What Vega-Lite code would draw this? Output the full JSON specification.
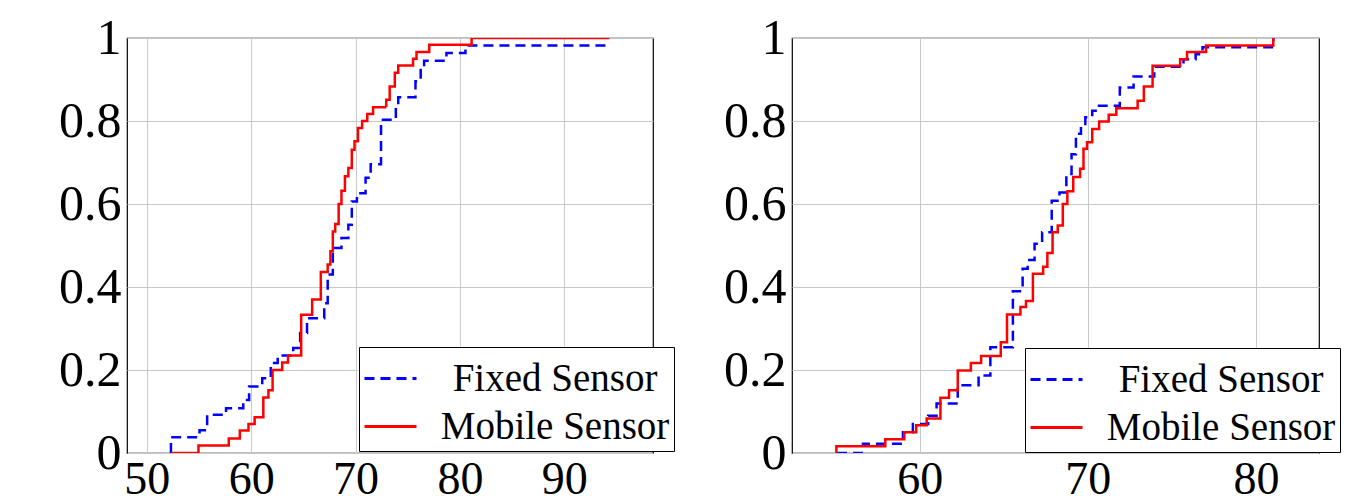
{
  "$schema": "https://vega.github.io/schema/vega-lite/v6.json",
  "background": "white",
  "padding": {"left": 57, "top": 12, "right": 0, "bottom": 0},
  "spacing": 46,
  "config": {
    "view": {"stroke": "black", "strokeWidth": 1.2},
    "axis": {"grid": true, "gridColor": "#c8c8c8", "gridWidth": 1, "domain": false, "ticks": false, "labelFont": "Liberation Serif", "labelColor": "black", "title": null},
    "axisX": {"labelFontSize": 46, "labelPadding": 4},
    "axisY": {"labelFontSize": 50, "labelPadding": 6, "format": "~g"},
    "legend": {"orient": "none", "title": null, "fillColor": "white", "strokeColor": "black", "padding": 4, "rowPadding": -7, "labelFont": "Liberation Serif", "labelFontSize": 39, "labelColor": "black", "labelAlign": "center", "labelOffset": 137, "labelLimit": 500, "labelExpr": "datum.label + '\u00a0'", "symbolType": "stroke", "symbolSize": 2704, "symbolStrokeWidth": 3}
  },
  "datasets": {
    "left": [
      {"s": "Fixed Sensor", "i": 0, "x": 52.31, "y": 0},
      {"s": "Fixed Sensor", "i": 1, "x": 52.31, "y": 0.038},
      {"s": "Fixed Sensor", "i": 2, "x": 55.05, "y": 0.055},
      {"s": "Fixed Sensor", "i": 3, "x": 55.78, "y": 0.092},
      {"s": "Fixed Sensor", "i": 4, "x": 57.59, "y": 0.108},
      {"s": "Fixed Sensor", "i": 5, "x": 59.24, "y": 0.128},
      {"s": "Fixed Sensor", "i": 6, "x": 59.8, "y": 0.16},
      {"s": "Fixed Sensor", "i": 7, "x": 61.06, "y": 0.18},
      {"s": "Fixed Sensor", "i": 8, "x": 61.88, "y": 0.217},
      {"s": "Fixed Sensor", "i": 9, "x": 62.54, "y": 0.235},
      {"s": "Fixed Sensor", "i": 10, "x": 64.03, "y": 0.253},
      {"s": "Fixed Sensor", "i": 11, "x": 64.69, "y": 0.289},
      {"s": "Fixed Sensor", "i": 12, "x": 65.35, "y": 0.325},
      {"s": "Fixed Sensor", "i": 13, "x": 67.0, "y": 0.361},
      {"s": "Fixed Sensor", "i": 14, "x": 67.33, "y": 0.43},
      {"s": "Fixed Sensor", "i": 15, "x": 67.82, "y": 0.494},
      {"s": "Fixed Sensor", "i": 16, "x": 68.65, "y": 0.518},
      {"s": "Fixed Sensor", "i": 17, "x": 69.31, "y": 0.55},
      {"s": "Fixed Sensor", "i": 18, "x": 69.64, "y": 0.606},
      {"s": "Fixed Sensor", "i": 19, "x": 70.13, "y": 0.626},
      {"s": "Fixed Sensor", "i": 20, "x": 70.96, "y": 0.663},
      {"s": "Fixed Sensor", "i": 21, "x": 71.45, "y": 0.696},
      {"s": "Fixed Sensor", "i": 22, "x": 72.44, "y": 0.803},
      {"s": "Fixed Sensor", "i": 23, "x": 73.86, "y": 0.833},
      {"s": "Fixed Sensor", "i": 24, "x": 74.09, "y": 0.857},
      {"s": "Fixed Sensor", "i": 25, "x": 75.74, "y": 0.896},
      {"s": "Fixed Sensor", "i": 26, "x": 76.24, "y": 0.928},
      {"s": "Fixed Sensor", "i": 27, "x": 76.57, "y": 0.945},
      {"s": "Fixed Sensor", "i": 28, "x": 78.71, "y": 0.964},
      {"s": "Fixed Sensor", "i": 29, "x": 80.53, "y": 0.982},
      {"s": "Fixed Sensor", "i": 30, "x": 94.32, "y": 0.982},
      {"s": "Mobile Sensor", "i": 0, "x": 52.31, "y": 0},
      {"s": "Mobile Sensor", "i": 1, "x": 54.95, "y": 0.018},
      {"s": "Mobile Sensor", "i": 2, "x": 57.85, "y": 0.035},
      {"s": "Mobile Sensor", "i": 3, "x": 58.91, "y": 0.054},
      {"s": "Mobile Sensor", "i": 4, "x": 59.74, "y": 0.07},
      {"s": "Mobile Sensor", "i": 5, "x": 60.33, "y": 0.086},
      {"s": "Mobile Sensor", "i": 6, "x": 61.16, "y": 0.134},
      {"s": "Mobile Sensor", "i": 7, "x": 61.65, "y": 0.151},
      {"s": "Mobile Sensor", "i": 8, "x": 62.05, "y": 0.2},
      {"s": "Mobile Sensor", "i": 9, "x": 62.97, "y": 0.218},
      {"s": "Mobile Sensor", "i": 10, "x": 63.53, "y": 0.235},
      {"s": "Mobile Sensor", "i": 11, "x": 64.79, "y": 0.333},
      {"s": "Mobile Sensor", "i": 12, "x": 65.84, "y": 0.37},
      {"s": "Mobile Sensor", "i": 13, "x": 66.67, "y": 0.436},
      {"s": "Mobile Sensor", "i": 14, "x": 67.33, "y": 0.454},
      {"s": "Mobile Sensor", "i": 15, "x": 67.59, "y": 0.486},
      {"s": "Mobile Sensor", "i": 16, "x": 67.82, "y": 0.534},
      {"s": "Mobile Sensor", "i": 17, "x": 68.05, "y": 0.552},
      {"s": "Mobile Sensor", "i": 18, "x": 68.38, "y": 0.6},
      {"s": "Mobile Sensor", "i": 19, "x": 68.65, "y": 0.632},
      {"s": "Mobile Sensor", "i": 20, "x": 68.98, "y": 0.667},
      {"s": "Mobile Sensor", "i": 21, "x": 69.31, "y": 0.687},
      {"s": "Mobile Sensor", "i": 22, "x": 69.64, "y": 0.731},
      {"s": "Mobile Sensor", "i": 23, "x": 69.9, "y": 0.751},
      {"s": "Mobile Sensor", "i": 24, "x": 70.23, "y": 0.783},
      {"s": "Mobile Sensor", "i": 25, "x": 70.63, "y": 0.8},
      {"s": "Mobile Sensor", "i": 26, "x": 71.12, "y": 0.817},
      {"s": "Mobile Sensor", "i": 27, "x": 71.68, "y": 0.833},
      {"s": "Mobile Sensor", "i": 28, "x": 72.94, "y": 0.851},
      {"s": "Mobile Sensor", "i": 29, "x": 73.27, "y": 0.883},
      {"s": "Mobile Sensor", "i": 30, "x": 73.76, "y": 0.916},
      {"s": "Mobile Sensor", "i": 31, "x": 74.09, "y": 0.934},
      {"s": "Mobile Sensor", "i": 32, "x": 75.51, "y": 0.95},
      {"s": "Mobile Sensor", "i": 33, "x": 75.84, "y": 0.966},
      {"s": "Mobile Sensor", "i": 34, "x": 77.06, "y": 0.984},
      {"s": "Mobile Sensor", "i": 35, "x": 81.12, "y": 1.0},
      {"s": "Mobile Sensor", "i": 36, "x": 94.32, "y": 1.0}
    ],
    "right": [
      {"s": "Fixed Sensor", "i": 0, "x": 55.08, "y": 0},
      {"s": "Fixed Sensor", "i": 1, "x": 56.62, "y": 0.022},
      {"s": "Fixed Sensor", "i": 2, "x": 59.0, "y": 0.05},
      {"s": "Fixed Sensor", "i": 3, "x": 59.59, "y": 0.07},
      {"s": "Fixed Sensor", "i": 4, "x": 60.5, "y": 0.09},
      {"s": "Fixed Sensor", "i": 5, "x": 61.0, "y": 0.119},
      {"s": "Fixed Sensor", "i": 6, "x": 62.26, "y": 0.163},
      {"s": "Fixed Sensor", "i": 7, "x": 63.5, "y": 0.187},
      {"s": "Fixed Sensor", "i": 8, "x": 64.2, "y": 0.255},
      {"s": "Fixed Sensor", "i": 9, "x": 65.54, "y": 0.39},
      {"s": "Fixed Sensor", "i": 10, "x": 66.12, "y": 0.444},
      {"s": "Fixed Sensor", "i": 11, "x": 66.42, "y": 0.465},
      {"s": "Fixed Sensor", "i": 12, "x": 66.83, "y": 0.504},
      {"s": "Fixed Sensor", "i": 13, "x": 67.28, "y": 0.532},
      {"s": "Fixed Sensor", "i": 14, "x": 67.85, "y": 0.608},
      {"s": "Fixed Sensor", "i": 15, "x": 68.31, "y": 0.628},
      {"s": "Fixed Sensor", "i": 16, "x": 68.72, "y": 0.672},
      {"s": "Fixed Sensor", "i": 17, "x": 69.03, "y": 0.72},
      {"s": "Fixed Sensor", "i": 18, "x": 69.29, "y": 0.769},
      {"s": "Fixed Sensor", "i": 19, "x": 69.59, "y": 0.789},
      {"s": "Fixed Sensor", "i": 20, "x": 69.85, "y": 0.809},
      {"s": "Fixed Sensor", "i": 21, "x": 70.26, "y": 0.825},
      {"s": "Fixed Sensor", "i": 22, "x": 70.46, "y": 0.837},
      {"s": "Fixed Sensor", "i": 23, "x": 71.9, "y": 0.881},
      {"s": "Fixed Sensor", "i": 24, "x": 72.72, "y": 0.907},
      {"s": "Fixed Sensor", "i": 25, "x": 73.95, "y": 0.931},
      {"s": "Fixed Sensor", "i": 26, "x": 75.69, "y": 0.949},
      {"s": "Fixed Sensor", "i": 27, "x": 76.41, "y": 0.961},
      {"s": "Fixed Sensor", "i": 28, "x": 76.82, "y": 0.978},
      {"s": "Fixed Sensor", "i": 29, "x": 81.03, "y": 0.978},
      {"s": "Fixed Sensor", "i": 30, "x": 81.03, "y": 1.0},
      {"s": "Mobile Sensor", "i": 0, "x": 55.04, "y": 0},
      {"s": "Mobile Sensor", "i": 1, "x": 55.04, "y": 0.016},
      {"s": "Mobile Sensor", "i": 2, "x": 57.95, "y": 0.033},
      {"s": "Mobile Sensor", "i": 3, "x": 59.08, "y": 0.05},
      {"s": "Mobile Sensor", "i": 4, "x": 59.79, "y": 0.067},
      {"s": "Mobile Sensor", "i": 5, "x": 60.41, "y": 0.083},
      {"s": "Mobile Sensor", "i": 6, "x": 61.23, "y": 0.133},
      {"s": "Mobile Sensor", "i": 7, "x": 61.74, "y": 0.151},
      {"s": "Mobile Sensor", "i": 8, "x": 62.26, "y": 0.199},
      {"s": "Mobile Sensor", "i": 9, "x": 63.04, "y": 0.217},
      {"s": "Mobile Sensor", "i": 10, "x": 63.65, "y": 0.234},
      {"s": "Mobile Sensor", "i": 11, "x": 64.82, "y": 0.267},
      {"s": "Mobile Sensor", "i": 12, "x": 65.19, "y": 0.334},
      {"s": "Mobile Sensor", "i": 13, "x": 65.99, "y": 0.352},
      {"s": "Mobile Sensor", "i": 14, "x": 66.32, "y": 0.366},
      {"s": "Mobile Sensor", "i": 15, "x": 66.73, "y": 0.432},
      {"s": "Mobile Sensor", "i": 16, "x": 67.34, "y": 0.449},
      {"s": "Mobile Sensor", "i": 17, "x": 67.59, "y": 0.482},
      {"s": "Mobile Sensor", "i": 18, "x": 67.9, "y": 0.532},
      {"s": "Mobile Sensor", "i": 19, "x": 68.21, "y": 0.548},
      {"s": "Mobile Sensor", "i": 20, "x": 68.51, "y": 0.6},
      {"s": "Mobile Sensor", "i": 21, "x": 68.78, "y": 0.631},
      {"s": "Mobile Sensor", "i": 22, "x": 69.13, "y": 0.665},
      {"s": "Mobile Sensor", "i": 23, "x": 69.54, "y": 0.685},
      {"s": "Mobile Sensor", "i": 24, "x": 69.74, "y": 0.733},
      {"s": "Mobile Sensor", "i": 25, "x": 69.95, "y": 0.749},
      {"s": "Mobile Sensor", "i": 26, "x": 70.26, "y": 0.781},
      {"s": "Mobile Sensor", "i": 27, "x": 70.67, "y": 0.799},
      {"s": "Mobile Sensor", "i": 28, "x": 71.24, "y": 0.815},
      {"s": "Mobile Sensor", "i": 29, "x": 71.69, "y": 0.831},
      {"s": "Mobile Sensor", "i": 30, "x": 72.96, "y": 0.849},
      {"s": "Mobile Sensor", "i": 31, "x": 73.33, "y": 0.883},
      {"s": "Mobile Sensor", "i": 32, "x": 73.85, "y": 0.933},
      {"s": "Mobile Sensor", "i": 33, "x": 75.49, "y": 0.949},
      {"s": "Mobile Sensor", "i": 34, "x": 75.9, "y": 0.966},
      {"s": "Mobile Sensor", "i": 35, "x": 77.03, "y": 0.982},
      {"s": "Mobile Sensor", "i": 36, "x": 81.03, "y": 1.0}
    ]
  },
  "resolve": {"scale": {"x": "independent", "color": "independent", "strokeDash": "independent"}, "legend": {"color": "independent", "strokeDash": "independent"}},
  "hconcat": [
    {
      "width": 526,
      "height": 415,
      "data": {"name": "left"},
      "mark": {"type": "line", "interpolate": "step-after", "strokeWidth": 2.5, "clip": true},
      "encoding": {
        "x": {"field": "x", "type": "quantitative", "scale": {"domain": [48.1, 98.5], "nice": false, "zero": false}, "axis": {"values": [50, 60, 70, 80, 90]}},
        "y": {"field": "y", "type": "quantitative", "scale": {"domain": [0, 1], "nice": false}, "axis": {"values": [0, 0.2, 0.4, 0.6, 0.8, 1]}},
        "color": {"field": "s", "type": "nominal", "scale": {"domain": ["Fixed Sensor", "Mobile Sensor"], "range": ["#0000ff", "#ff0000"]}, "legend": {"legendX": 232, "legendY": 309}},
        "strokeDash": {"field": "s", "type": "nominal", "scale": {"domain": ["Fixed Sensor", "Mobile Sensor"], "range": [[10, 6], [1, 0]]}, "legend": {"legendX": 232, "legendY": 309}},
        "order": {"field": "i", "type": "quantitative"}
      }
    },
    {
      "width": 527,
      "height": 415,
      "data": {"name": "right"},
      "mark": {"type": "line", "interpolate": "step-after", "strokeWidth": 2.5, "clip": true},
      "encoding": {
        "x": {"field": "x", "type": "quantitative", "scale": {"domain": [52.4, 83.75], "nice": false, "zero": false}, "axis": {"values": [60, 70, 80]}},
        "y": {"field": "y", "type": "quantitative", "scale": {"domain": [0, 1], "nice": false}, "axis": {"values": [0, 0.2, 0.4, 0.6, 0.8, 1]}},
        "color": {"field": "s", "type": "nominal", "scale": {"domain": ["Fixed Sensor", "Mobile Sensor"], "range": ["#0000ff", "#ff0000"]}, "legend": {"legendX": 233, "legendY": 310}},
        "strokeDash": {"field": "s", "type": "nominal", "scale": {"domain": ["Fixed Sensor", "Mobile Sensor"], "range": [[10, 6], [1, 0]]}, "legend": {"legendX": 233, "legendY": 310}},
        "order": {"field": "i", "type": "quantitative"}
      }
    }
  ]
}
